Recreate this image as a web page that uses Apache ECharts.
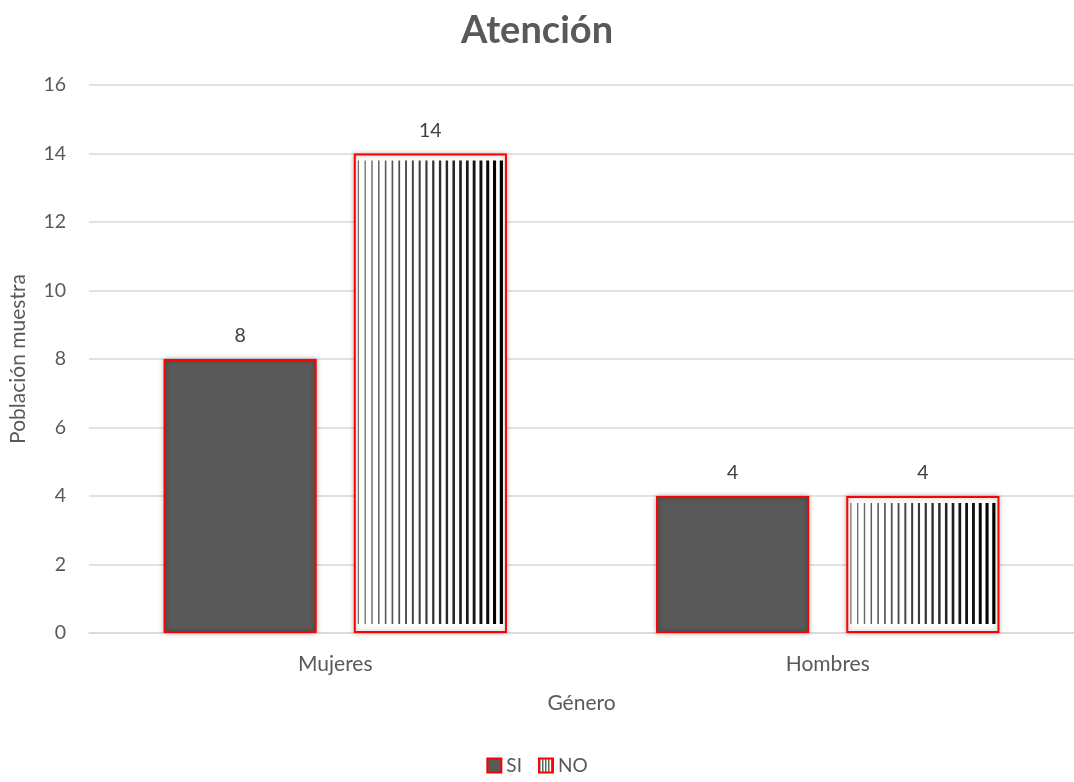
<!DOCTYPE html>
<html>
<head>
<meta charset="utf-8">
<script src="https://cdn.jsdelivr.net/npm/echarts@6/dist/echarts.min.js"></script>
<style>html,body{margin:0;padding:0;background:#fff}#c{width:1074px;height:782px}</style>
</head>
<body>
<div id="c"></div>
<script>
const categories = ['Mujeres', 'Hombres'];
const siValues = [8, 4];
const noValues = [14, 4];
const yTicks = [0, 2, 4, 6, 8, 10, 12, 14, 16];
const seriesNames = ['SI', 'NO'];

const FONT = 'Lato, "Open Sans", sans-serif';
const BAR_W = 0.311, BAR_GAP = 0.242;

function legendPattern() {
  const cv = document.createElement('canvas');
  cv.width = 3; cv.height = 4;
  const ctx = cv.getContext('2d');
  ctx.fillStyle = '#fff'; ctx.fillRect(0, 0, 3, 4);
  ctx.fillStyle = '#666'; ctx.fillRect(0, 0, 1.5, 4);
  return { image: cv, repeat: 'repeat' };
}

const chart = echarts.init(document.getElementById('c'), null, { renderer: 'canvas' });

const option = {
  backgroundColor: '#fff',
  animation: false,
  textStyle: { fontFamily: FONT },
  title: {
    text: 'Atención', left: 'center', top: 7,
    textStyle: { fontSize: 38, fontWeight: 'bold', color: '#595959', fontFamily: FONT }
  },
  legend: {
    bottom: 2, left: 'center', itemWidth: 14, itemHeight: 14, itemGap: 16,
    textStyle: { fontSize: 19, color: '#595959', fontFamily: FONT },
    data: [
      { name: seriesNames[0], icon: 'rect', itemStyle: { color: '#595959', borderColor: '#ff0000', borderWidth: 2 } },
      { name: seriesNames[1], icon: 'rect', itemStyle: { color: legendPattern(), borderColor: '#ff0000', borderWidth: 2 } }
    ]
  },
  grid: { left: 89, right: 0, top: 85, bottom: 149, containLabel: false },
  xAxis: {
    type: 'category', data: categories,
    name: 'Género', nameLocation: 'middle', nameGap: 60,
    nameTextStyle: { fontSize: 21, color: '#595959', fontFamily: FONT },
    axisLine: { lineStyle: { color: '#d9d9d9', width: 1.5 } },
    axisTick: { show: false },
    axisLabel: { fontSize: 21, color: '#595959', margin: 21, fontFamily: FONT }
  },
  yAxis: {
    type: 'value', min: yTicks[0], max: yTicks[yTicks.length - 1], interval: yTicks[1] - yTicks[0],
    name: 'Población muestra', nameLocation: 'middle', nameGap: 60, nameRotate: 90,
    nameTextStyle: { fontSize: 21, color: '#595959', fontFamily: FONT },
    axisLine: { show: false }, axisTick: { show: false },
    axisLabel: { fontSize: 19.5, color: '#595959', margin: 23, fontFamily: FONT },
    splitLine: { lineStyle: { color: '#d9d9d9', width: 1.5 } }
  },
  series: [
    {
      name: seriesNames[0], type: 'bar', data: siValues,
      barWidth: (BAR_W * 100) + '%', barGap: (BAR_GAP * 100) + '%',
      itemStyle: { color: '#595959', borderColor: '#ff0000', borderWidth: 2,
        shadowBlur: 5, shadowColor: 'rgba(0,0,0,0.3)' },
      label: { show: true, position: 'top', distance: 13, fontSize: 19.5, color: '#404040', fontFamily: FONT }
    },
    {
      name: seriesNames[1], type: 'bar', data: noValues,
      barWidth: (BAR_W * 100) + '%',
      itemStyle: { color: '#ffffff', borderColor: '#ff0000', borderWidth: 2,
        shadowBlur: 5, shadowColor: 'rgba(0,0,0,0.3)' },
      label: { show: true, position: 'top', distance: 13, fontSize: 19.5, color: '#404040', fontFamily: FONT }
    },
    {
      name: 'NO-pattern', type: 'custom', z: 5, silent: true,
      data: noValues.map((v, i) => [i, v]),
      renderItem: function (params, api) {
        const idx = api.value(0), val = api.value(1);
        const top = api.coord([idx, val]);
        const base = api.coord([idx, 0]);
        const band = api.size([1, 0])[0];
        const bw = band * BAR_W;
        const gap = bw * BAR_GAP;
        const left = top[0] - (2 * bw + gap) / 2 + bw + gap;
        const y0 = top[1] + 7, y1 = base[1] - 9;
        const n = 22;
        const wLast = 3.2;
        const step = (bw - 8 - wLast) / (n - 1);
        const children = [];
        for (let k = 0; k < n; k++) {
          const t = k / (n - 1);
          const w = 1.2 + t * (wLast - 1.2);
          const g = Math.round(110 - t * 110);
          children.push({
            type: 'rect',
            shape: { x: left + 4 + k * step, y: y0, width: w, height: y1 - y0 },
            style: { fill: 'rgb(' + g + ',' + g + ',' + g + ')' }
          });
        }
        return { type: 'group', children: children };
      }
    }
  ]
};
chart.setOption(option);
</script>
</body>
</html>
